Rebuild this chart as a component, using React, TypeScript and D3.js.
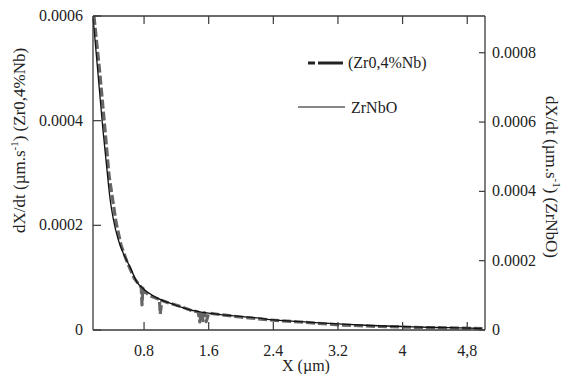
import React from "react";
import * as d3 from "d3";

const W = 566;
const H = 374;

// Plot frame in pixels
const frame = { left: 93, right: 485, top: 16, bottom: 330 };

const xDomain = [0.168, 5.02];
const leftMax = 0.0006;
const rightMax = 0.000906;

const xTicks = [0.8, 1.6, 2.4, 3.2, 4, 4.8];
const xTickLabels = ["0.8", "1.6", "2.4", "3.2", "4", "4,8"];
const leftTicks = [0, 0.0002, 0.0004, 0.0006];
const leftTickLabels = ["0", "0.0002", "0.0004", "0.0006"];
const rightTicks = [0, 0.0002, 0.0004, 0.0006, 0.0008];
const rightTickLabels = ["0", "0.0002", "0.0004", "0.0006", "0.0008"];

// (Zr0,4%Nb) — left axis, noisy measured rate
const zrNbX = [
  0.18, 0.255, 0.317, 0.366, 0.403, 0.453, 0.515, 0.59, 0.676, 0.75,
  0.765, 0.775, 0.785, 0.8, 0.87, 0.97, 0.99, 1.0, 1.02, 1.12, 1.245,
  1.37, 1.47, 1.49, 1.51, 1.53, 1.55, 1.57, 1.6, 1.68, 1.99, 2.36, 2.73,
  3.23, 3.72, 4.22, 4.71, 4.99,
];
const zrNbY = [
  0.0006, 0.000487, 0.000382, 0.000296, 0.000258, 0.000206, 0.000162,
  0.00013, 0.0000994, 0.0000841, 0.000082, 0.0000478, 0.00008, 0.0000745,
  0.0000655, 0.0000595, 0.000058, 0.0000306, 0.0000565, 0.000051,
  0.0000455, 0.000038, 0.0000344, 0.0000153, 0.000034, 0.000018,
  0.000033, 0.000016, 0.000032, 0.0000306, 0.0000248, 0.0000191,
  0.0000153, 0.0000096, 0.0000067, 0.0000048, 0.0000038, 0.0000029,
];

// ZrNbO — right axis, smooth model curve
const zrNbOX = [
  0.17, 0.23, 0.29, 0.34, 0.38, 0.42, 0.48, 0.54, 0.63, 0.71, 0.79, 0.96,
  1.18, 1.37, 1.58, 1.78, 2.2, 2.4, 2.79, 3.2, 3.6, 4.0, 4.4, 4.8, 4.98,
];
const zrNbOY = [
  0.000898, 0.000739, 0.00058, 0.000464, 0.000377, 0.000319, 0.000261,
  0.000223, 0.00018, 0.000139, 0.000119, 0.0000927, 0.0000725, 0.000058,
  0.0000493, 0.0000435, 0.0000348, 0.000029, 0.0000232, 0.0000174,
  0.000013, 0.0000101, 0.0000072, 0.0000058, 0.0000043,
];

const FONT = "'Liberation Serif', 'Times New Roman', serif";
const AXIS = "#3a3a3a";

export default function App() {
  const x = d3.scaleLinear().domain(xDomain).range([frame.left, frame.right]);
  const yL = d3.scaleLinear().domain([0, leftMax]).range([frame.bottom, frame.top]);
  const yR = d3.scaleLinear().domain([0, rightMax]).range([frame.bottom, frame.top]);

  const zrNbPts = zrNbX.map((v, i) => [v, zrNbY[i]] as [number, number]);
  const zrNbOPts = zrNbOX.map((v, i) => [v, zrNbOY[i]] as [number, number]);

  const dashedLine = d3
    .line<[number, number]>()
    .x((d) => x(d[0]))
    .y((d) => yL(d[1]))
    .curve(d3.curveLinear);
  const solidLine = d3
    .line<[number, number]>()
    .x((d) => x(d[0]))
    .y((d) => yR(d[1]))
    .curve(d3.curveMonotoneX);

  return (
    <svg
      width={W}
      height={H}
      style={{ position: "absolute", left: 0, top: 0, background: "#fff" }}
      fontFamily={FONT}
    >
      <rect x={0} y={0} width={W} height={H} fill="#fff" />

      {/* data */}
      <path
        d={dashedLine(zrNbPts) || ""}
        fill="none"
        stroke="#666"
        strokeWidth={3.2}
        strokeDasharray="9 3"
        strokeLinejoin="round"
      />
      <path d={solidLine(zrNbOPts) || ""} fill="none" stroke="#111" strokeWidth={1.3} />

      {/* frame */}
      <g stroke={AXIS} strokeWidth={1.3} fill="none">
        <line x1={frame.left} x2={frame.right} y1={frame.bottom} y2={frame.bottom} />
        <line x1={frame.left} x2={frame.right} y1={frame.top} y2={frame.top} />
        <line x1={frame.left} x2={frame.left} y1={frame.top} y2={frame.bottom} />
        <line x1={frame.right} x2={frame.right} y1={frame.top} y2={frame.bottom} />
      </g>

      {/* x ticks (bottom and top, inward) */}
      <g stroke={AXIS} strokeWidth={1.2}>
        {xTicks.map((t) => (
          <g key={"xt" + t}>
            <line x1={x(t)} x2={x(t)} y1={frame.bottom} y2={frame.bottom - 8} />
            <line x1={x(t)} x2={x(t)} y1={frame.top} y2={frame.top + 8} />
          </g>
        ))}
      </g>
      <g fontSize={16} fill="#222" textAnchor="middle">
        {xTicks.map((t, i) => (
          <text key={"xl" + t} x={x(t)} y={356}>
            {xTickLabels[i]}
          </text>
        ))}
      </g>
      <text x={306} y={371} fontSize={16} fill="#222" textAnchor="middle">
        X (µm)
      </text>

      {/* left axis */}
      <g stroke={AXIS} strokeWidth={1.2}>
        {leftTicks.map((t) => (
          <line key={"lt" + t} x1={frame.left} x2={frame.left + 8} y1={yL(t)} y2={yL(t)} />
        ))}
      </g>
      <g fontSize={16} fill="#222" textAnchor="end">
        {leftTicks.map((t, i) => (
          <text key={"ll" + t} x={83} y={yL(t) + 5}>
            {leftTickLabels[i]}
          </text>
        ))}
      </g>
      <text
        transform="translate(25,233) rotate(-90)"
        fontSize={17}
        fill="#222"
        textAnchor="start"
      >
        dX/dt (µm.s
        <tspan dy={-7} fontSize={11}>-1</tspan>
        <tspan dy={7}>) (Zr0,4%Nb)</tspan>
      </text>

      {/* right axis */}
      <g stroke={AXIS} strokeWidth={1.2}>
        {rightTicks.map((t) => (
          <line key={"rt" + t} x1={frame.right - 6} x2={frame.right} y1={yR(t)} y2={yR(t)} />
        ))}
      </g>
      <g fontSize={16} fill="#222" textAnchor="start">
        {rightTicks.map((t, i) => (
          <text key={"rl" + t} x={492} y={yR(t) + 5}>
            {rightTickLabels[i]}
          </text>
        ))}
      </g>
      <text
        transform="translate(546,96) rotate(90)"
        fontSize={17}
        fill="#222"
        textAnchor="start"
      >
        dX/dt (µm.s
        <tspan dy={-7} fontSize={11}>-1</tspan>
        <tspan dy={7}>) (ZrNbO)</tspan>
      </text>

      {/* legend */}
      <line
        x1={308}
        x2={343}
        y1={63}
        y2={63}
        stroke="#222"
        strokeWidth={3}
        strokeDasharray="7 3 25"
      />
      <text x={348} y={68} fontSize={16} fill="#222">
        (Zr0,4%Nb)
      </text>
      <line x1={298} x2={345} y1={107} y2={107} stroke="#111" strokeWidth={1.1} />
      <text x={351} y={113} fontSize={16} fill="#222">
        ZrNbO
      </text>
    </svg>
  );
}
